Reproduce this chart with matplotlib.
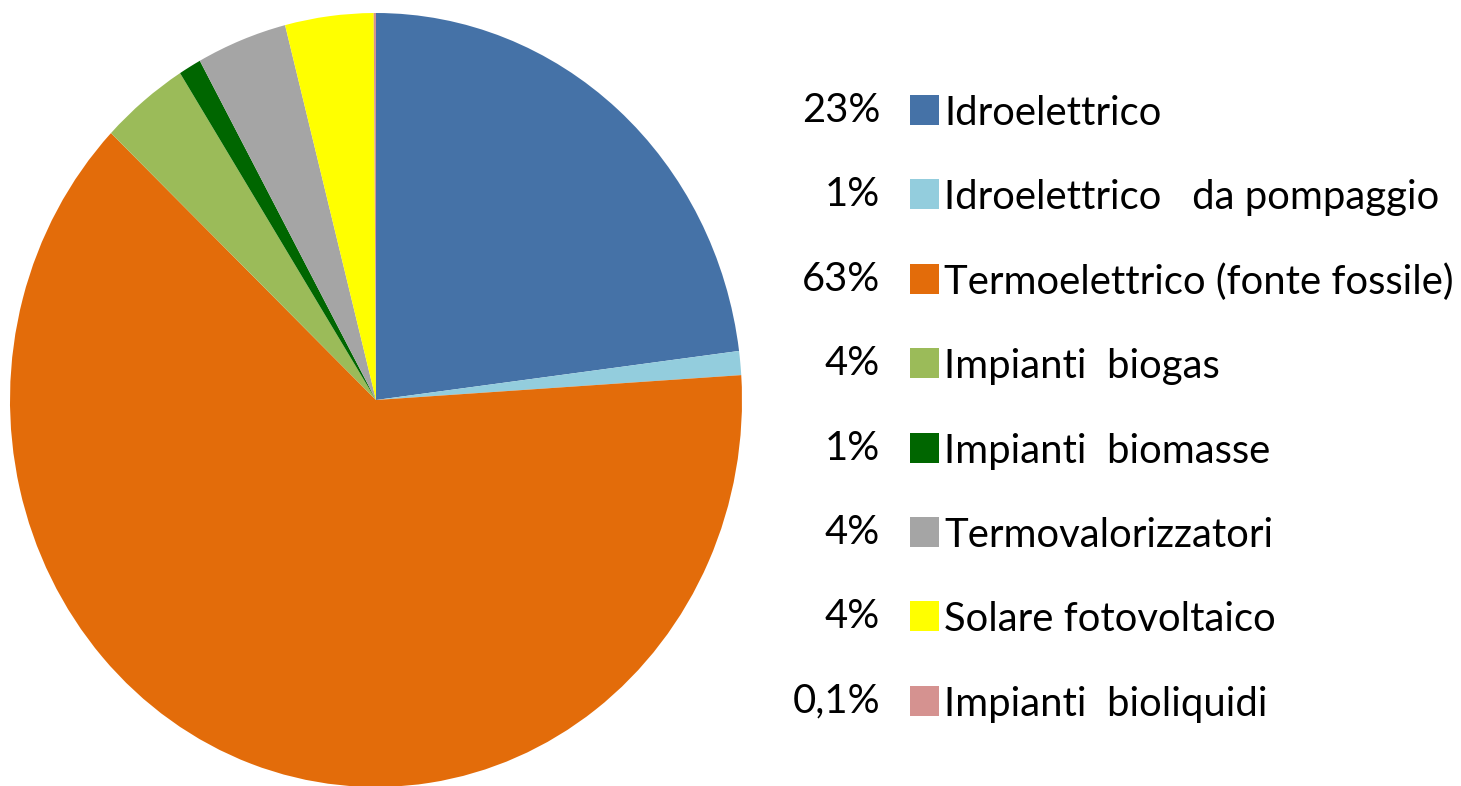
import matplotlib.pyplot as plt
from matplotlib.patches import Rectangle

# share of electricity production by source
labels = ['Idroelettrico', 'Idroelettrico   da pompaggio', 'Termoelettrico (fonte fossile)',
          'Impianti  biogas', 'Impianti  biomasse', 'Termovalorizzatori',
          'Solare fotovoltaico', 'Impianti  bioliquidi']
values = [23.0, 1.0, 63.2, 3.9, 1.0, 4.0, 3.9, 0.1]
pct_labels = ['23%', '1%', '63%', '4%', '1%', '4%', '4%', '0,1%']
colors = ['#4572A7', '#93CDDD', '#E36C0A', '#9BBB59', '#006600', '#A5A5A5',
          '#FFFF00', '#D59290']

W, H = 1461, 786
plt.rcParams['font.family'] = ['Lato', 'DejaVu Sans']

fig = plt.figure(figsize=(W / 100, H / 100), dpi=100)

# pie axes placed in pixel terms (slightly taller than wide, like the source)
ax = fig.add_axes([10 / W, (H - 787) / H, 732 / W, 774 / H])
ax.pie(values, colors=colors, startangle=90, counterclock=False,
       wedgeprops=dict(linewidth=0))
ax.set_aspect('auto')
ax.set_xlim(-1, 1)
ax.set_ylim(-1, 1)

# hand-placed legend: percentage, colour square, label
fs = 28.8
for i, (lab, pct, col) in enumerate(zip(labels, pct_labels, colors)):
    yc = 110 + i * 84.4
    fig.add_artist(Rectangle((910 / W, 1 - (yc + 15) / H), 29 / W, 30 / H,
                             transform=fig.transFigure, color=col, lw=0))
    fig.text(944 / W, 1 - (yc + 15) / H, lab, ha='left', va='baseline', fontsize=fs)
    fig.text(880 / W, 1 - (yc + 12) / H, pct, ha='right', va='baseline', fontsize=fs)

fig.savefig('out.png', dpi=100)
